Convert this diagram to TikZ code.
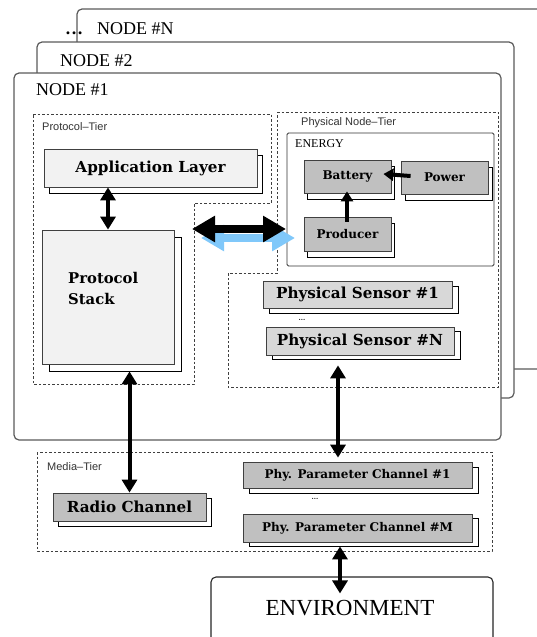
\documentclass[tikz,border=0pt]{standalone}
\usepackage{fontspec}
\newfontfamily\serifT{Liberation Serif}
\newfontfamily\sansH{Liberation Sans}
\newfontfamily\heavy{DejaVu Serif}
\usetikzlibrary{arrows.meta,shadows}
\definecolor{lightfill}{HTML}{F2F2F2}
\definecolor{midfill}{HTML}{C0C0C0}
\definecolor{sensfill}{HTML}{D8D8D8}
\definecolor{framegray}{HTML}{5A5A5A}
\definecolor{arrowblue}{HTML}{80C8FA}
\begin{document}
\begin{tikzpicture}[x=1pt,y=-1pt,
  nodeframe/.style={draw=framegray, line width=1.2pt, rounded corners=5pt, fill=white},
  tier/.style={draw=black!75, line width=0.8pt, dash pattern=on 2.5pt off 2pt},
  tierlabel/.style={anchor=west, inner sep=0pt, font=\sansH\fontsize{11}{13}\selectfont, text=black!80},
  framelabel/.style={anchor=west, inner sep=0pt, font=\serifT\fontsize{18}{21}\selectfont},
  cbox/.style={draw=black!75, line width=0.8pt, inner sep=0pt},
  boxshadow/.style 2 args={copy shadow={shadow xshift=#1, shadow yshift=#2, fill=white, draw=black, line width=0.9pt}},
  bigtext/.style={font=\heavy\bfseries\fontsize{15.2}{18}\selectfont},
  midtext/.style={font=\heavy\bfseries\fontsize{12}{14}\selectfont},
  chantext/.style={font=\heavy\bfseries\fontsize{12}{14}\selectfont},
  dblarrow/.style={line width=4pt, {Triangle[length=13pt,width=15pt]}-{Triangle[length=13pt,width=15pt]}},
  onearrow/.style={line width=4pt, -{Triangle[length=10pt,width=12pt]}},
  bigarrow/.style={line width=8pt, {Triangle[length=23pt,width=25pt]}-{Triangle[length=23pt,width=25pt]}},
]
\useasboundingbox (0,0) rectangle (537,637);
\clip (0,0) rectangle (537,637);
% stacked node frames
\draw[nodeframe] (77,9) rectangle (580,369);
\node[framelabel] (dotsN) at (65,29) {\textbf{\ldots}\hspace{14pt}NODE \#N};
\draw[nodeframe] (37,42) rectangle (514,398);
\node[framelabel] (lab2) at (60,61) {NODE \#2};
\draw[nodeframe] (14,73) rectangle (501,440);
\node[framelabel] (lab1) at (36,90) {NODE \#1};
% tiers
\draw[tier] (33,114) -- (271,114) -- (271,203) -- (194,203) -- (194,384) -- (33,384) -- cycle;
\node[tierlabel] (ptl) at (42,127) {Protocol\textendash Tier};
\draw[tier] (277,112) -- (498,112) -- (498,387) -- (228,387) -- (228,273) -- (277,273) -- cycle;
\node[tierlabel] (pntl) at (301,123) {Physical Node\textendash Tier};
\draw[tier] (37,452) rectangle (492,551);
\node[tierlabel] (mtl) at (47,467) {Media\textendash Tier};
% energy
\draw[draw=black!80, line width=0.9pt, rounded corners=1.5pt] (287,133) rectangle (494,266);
\node[anchor=west, inner sep=0pt, font=\serifT\fontsize{12}{14}\selectfont] (energy) at (295,144) {ENERGY};
% boxes
\node[cbox, fill=lightfill, minimum width=213pt, minimum height=38pt, boxshadow={5pt}{-6pt}, bigtext] (app) at (150.5,168) {Application Layer};
\node[cbox, fill=lightfill, minimum width=132pt, minimum height=134pt, boxshadow={7pt}{-7pt}] (ps) at (108,297) {};
\node[anchor=west, align=left, inner sep=0pt, font=\heavy\bfseries\fontsize{14.8}{21}\selectfont] (pstxt) at (68,288) {Protocol\\Stack};
\node[cbox, fill=midfill, minimum width=87pt, minimum height=33pt, boxshadow={3pt}{-6pt}, midtext] (battery) at (347.5,176.5) {Battery};
\node[cbox, fill=midfill, minimum width=87pt, minimum height=33pt, boxshadow={4pt}{-6pt}, midtext] (power) at (444.5,177.5) {Power};
\node[cbox, fill=midfill, minimum width=87pt, minimum height=34pt, boxshadow={3pt}{-6pt}, midtext] (producer) at (347.5,234) {Producer};
\node[cbox, fill=sensfill, minimum width=189pt, minimum height=27pt, boxshadow={6pt}{-5pt}, bigtext] (sens1) at (357.5,294.5) {Physical Sensor \#1};
\node[inner sep=0pt, font=\fontsize{12}{14}\selectfont] (sdots) at (302,320) {\ldots};
\node[cbox, fill=sensfill, minimum width=188pt, minimum height=28pt, boxshadow={6pt}{-4pt}, bigtext] (sensN) at (360,341) {Physical Sensor \#N};
\node[cbox, fill=midfill, minimum width=153pt, minimum height=28pt, boxshadow={5pt}{-5pt}, bigtext] (radio) at (129.5,507) {Radio Channel};
\node[cbox, fill=midfill, minimum width=229pt, minimum height=26pt, boxshadow={6pt}{-5pt}, chantext] (pp1) at (357.5,475) {Phy. Parameter Channel \#1};
\node[inner sep=0pt, font=\fontsize{12}{14}\selectfont] (cdots) at (315,499) {\ldots};
\node[cbox, fill=midfill, minimum width=229pt, minimum height=28pt, boxshadow={6pt}{-4pt}, chantext] (ppM) at (357.5,528) {Phy. Parameter Channel \#M};
% environment
\node[draw=black!85, line width=1.1pt, rounded corners=5pt, fill=white, minimum width=282pt, minimum height=103pt, inner sep=0pt] (env) at (352,628.5) {};
\node[inner sep=0pt, font=\serifT\fontsize{23}{27}\selectfont] (envtxt) at (350,608) {ENVIRONMENT};
% arrows
\draw[dblarrow] (ps.north |- app.south) -- (ps.north);
\draw[dblarrow] ([yshift=-7pt]radio.north |- ps.south) -- (radio.north);
\draw[dblarrow] ([xshift=-22pt,yshift=-10pt]sensN.south) -- ([xshift=-19.5pt,yshift=4pt]pp1.north);
\draw[dblarrow] ([xshift=-17.5pt,yshift=-4pt]ppM.south) -- ([xshift=-12pt,yshift=-17pt]env.north);
\draw[onearrow] ([xshift=10pt,yshift=1.5pt]power.west) -- ([xshift=-8pt,yshift=2.5pt]battery.east);
\draw[onearrow] ([xshift=-0.5pt,yshift=-5pt]producer.north) -- ([xshift=-0.5pt,yshift=2pt]battery.south);
\coordinate (tierL) at (192,229);
\coordinate (tierR) at (286,229);
\draw[bigarrow, draw=arrowblue, fill=arrowblue, transform canvas={xshift=9pt,yshift=-9pt}] (tierL) -- (tierR);
\draw[bigarrow] (tierL) -- (tierR);
\end{tikzpicture}
\end{document}
